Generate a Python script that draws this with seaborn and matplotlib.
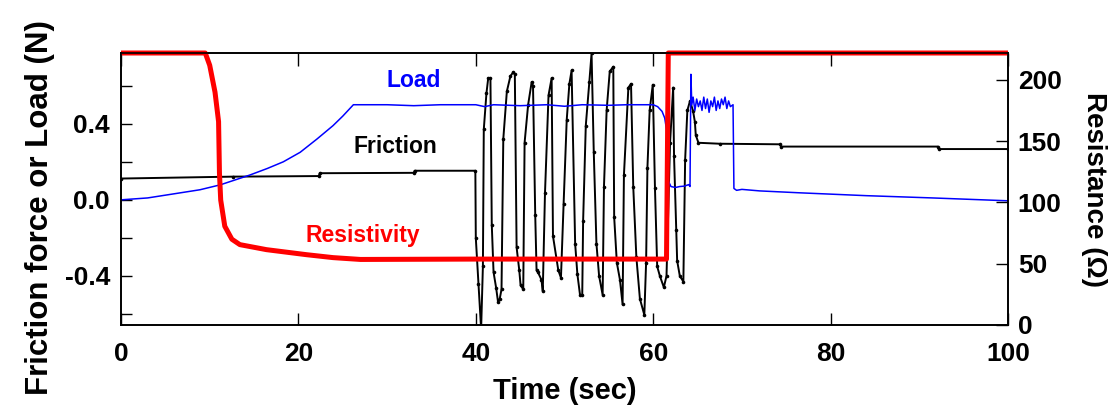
import matplotlib
matplotlib.use("Agg")
import matplotlib.pyplot as plt
import seaborn as sns
import pandas as pd

# Load trace (N) versus time (s)
load_t = [0, 3, 5.2, 8.9, 11.2, 14.5, 16.5, 18.3, 20.2, 22.1, 23.9, 25.0, 26.2,
          30, 33, 36, 40, 41, 42, 45, 48, 50, 52, 55, 57, 60.0,
          60.5, 61.0, 61.3, 61.5, 61.7, 62.0, 62.5, 63.0, 63.5, 64.0, 64.15,
          64.25, 64.35, 64.5, 64.7, 64.9, 65.1, 65.3, 65.5, 65.7, 65.9, 66.1,
          66.3, 66.5, 66.7, 66.9, 67.1, 67.3, 67.5, 67.7, 67.9, 68.1, 68.3,
          68.5, 68.7, 69.0, 69.1, 69.4, 70, 72, 76.5, 84, 91.5, 100]
load_v = [0.0, 0.01, 0.026, 0.053, 0.079, 0.13, 0.165, 0.2, 0.25, 0.32, 0.39, 0.44, 0.50,
          0.50, 0.495, 0.50, 0.50, 0.49, 0.50, 0.495, 0.50, 0.492, 0.50, 0.497, 0.50, 0.50,
          0.49, 0.465, 0.43, 0.37, 0.10, 0.07, 0.065, 0.07, 0.072, 0.08, 0.07,
          0.66, 0.50, 0.54, 0.47, 0.53, 0.49, 0.52, 0.47, 0.54, 0.48, 0.53,
          0.46, 0.52, 0.49, 0.54, 0.47, 0.52, 0.48, 0.53, 0.50, 0.54, 0.48,
          0.52, 0.49, 0.50, 0.06, 0.05, 0.055, 0.047, 0.037, 0.022, 0.01, -0.005]

# Friction force trace (N) versus time (s)
friction_t = [0, 12.6, 22.3, 22.4, 33.0, 33.1, 39.95, 40.0, 40.3, 40.6,
              40.8, 40.9, 41.2, 41.4, 41.65, 41.8, 42.0, 42.3, 42.5, 42.7, 42.9,
              43.1, 43.5, 43.9, 44.2, 44.4, 44.6, 44.9, 45.05, 45.35,
              45.5, 45.9, 46.3, 46.45, 46.7, 46.85, 47.0, 47.4, 47.55,
              47.8, 48.2, 48.55, 48.7, 49.3, 49.6,
              49.9, 50.25, 50.55, 50.8, 51.2, 51.45, 51.75, 52.0,
              52.1, 52.4, 52.8, 53.05, 53.3, 53.6, 53.9, 54.3,
              54.45, 54.75, 55.1, 55.5, 55.6, 55.9, 56.25, 56.55,
              56.7, 57.2, 57.5, 57.75, 58.1, 58.5, 59.0,
              59.2, 59.35, 59.6, 59.95, 60.2, 60.45, 60.75, 61.2, 61.5,
              61.9, 62.25, 62.35, 62.6, 62.7, 63.0, 63.4,
              63.6, 63.85, 64.15, 64.5, 64.7, 64.8, 65.1,
              67.5, 74.3, 74.4, 92.1, 92.2, 100]
friction_v = [0.112, 0.122, 0.125, 0.14, 0.142, 0.153, 0.153, -0.20, -0.44, -0.68,
              -0.35, 0.37, 0.56, 0.64, 0.64, -0.13, -0.38, -0.465, -0.535, -0.52, -0.47,
              0.32, 0.57, 0.65, 0.67, 0.66, -0.25, -0.37, -0.45, -0.47,
              0.30, 0.50, 0.62, 0.60, -0.08, -0.37, -0.38, -0.42, -0.48,
              0.035, 0.55, 0.64, -0.19, -0.37, -0.41,
              -0.02, 0.42, 0.61, 0.68, -0.23, -0.39, -0.50, -0.50,
              -0.11, 0.39, 0.62, 0.77, 0.25, -0.23, -0.40, -0.50,
              0.07, 0.47, 0.675, 0.70, -0.09, -0.33, -0.42, -0.55,
              0.13, 0.59, 0.61, 0.07, -0.30, -0.52, -0.605,
              -0.33, 0.17, 0.47, 0.605, 0.06, -0.35, -0.40, -0.46, -0.40,
              0.30, 0.59, 0.23, -0.16, -0.32, -0.40, -0.43,
              0.21, 0.47, 0.52, 0.465, 0.41, 0.34, 0.30,
              0.295, 0.292, 0.28, 0.28, 0.267, 0.267]

# Electrical resistance (ohm) versus time (s)
resist_t = [0, 9.5, 10.0, 10.6, 11.0, 11.1, 11.24, 11.7, 12.5, 13.4, 16.4,
            20.9, 23.9, 27.0, 40.0, 61.5, 61.7, 100]
resist_v = [222, 222, 212, 190, 166, 124, 102, 80.6, 70, 65.6, 61.5,
            57.4, 55, 53.5, 53.8, 53.8, 222, 222]

x_ticks = [0, 20, 40, 60, 80, 100]
force_ticks = [-0.4, 0.0, 0.4]
force_minor = [-0.6, -0.2, 0.2, 0.6]
resist_ticks = [0, 50, 100, 150, 200]

load_df = pd.DataFrame({"time": load_t, "value": load_v})
friction_df = pd.DataFrame({"time": friction_t, "value": friction_v})
resist_df = pd.DataFrame({"time": resist_t, "value": resist_v})

sns.set_style("ticks")
plt.rcParams["font.family"] = ["Liberation Sans", "DejaVu Sans"]
plt.rcParams["font.weight"] = "bold"
plt.rcParams["text.color"] = "black"
plt.rcParams["axes.labelcolor"] = "black"
plt.rcParams["xtick.color"] = "black"
plt.rcParams["ytick.color"] = "black"

fig = plt.figure(figsize=(11.16, 4.07), dpi=100)
ax = fig.add_axes([121 / 1116, 1 - 325 / 407, (1008 - 121) / 1116, (325 - 53) / 407])
ax2 = ax.twinx()

sns.lineplot(data=friction_df, x="time", y="value", ax=ax, sort=False, estimator=None,
             color="black", linewidth=1.4, marker="o", markersize=2.6,
             markeredgewidth=0)
sns.lineplot(data=load_df, x="time", y="value", ax=ax, sort=False, estimator=None,
             color="#0000ff", linewidth=1.1)
sns.lineplot(data=resist_df, x="time", y="value", ax=ax2, sort=False, estimator=None,
             color="#ff0000", linewidth=3.6, clip_on=False, solid_capstyle="butt")

ax.set_xlim(0, 100)
ax.set_ylim(-0.658, 0.772)
ax2.set_ylim(0, 222)

ax.set_xticks(x_ticks)
ax.set_xticklabels([str(v) for v in x_ticks])
ax.set_yticks(force_ticks)
ax.set_yticklabels([f"{v:.1f}" for v in force_ticks])
ax.set_yticks(force_minor, minor=True)
ax2.set_yticks(resist_ticks)
ax2.set_yticklabels([str(v) for v in resist_ticks])

ax.tick_params(axis="x", direction="in", length=9, width=1, top=True,
               labelsize=19, pad=12, colors="black")
ax.tick_params(axis="y", which="both", direction="in", length=8, width=1,
               labelsize=19, pad=8, right=False, colors="black")
ax2.tick_params(axis="y", direction="in", length=9, width=1, labelsize=19, pad=7,
                colors="black")
ax2.tick_params(axis="x", top=False, bottom=False)
for a in (ax, ax2):
    for lab in a.get_xticklabels() + a.get_yticklabels():
        lab.set_fontweight("bold")
    for s in a.spines.values():
        s.set_visible(True)
        s.set_linewidth(1.2)
        s.set_color("black")

ax.set_xlabel("Time (sec)", fontsize=21, fontweight="bold", labelpad=8)
ax.set_ylabel("Friction force or Load (N)", fontsize=22.5, fontweight="bold")
ax.yaxis.set_label_coords(-0.0744, 0.43)
ax2.set_ylabel("Resistance (\u03a9)", fontsize=20, fontweight="bold", rotation=-90,
               labelpad=14, va="bottom")

ax.text(33.0, 0.63, "Load", color="#0000ff", fontsize=16.5, fontweight="bold",
        ha="center", va="center")
ax.text(30.9, 0.28, "Friction", color="black", fontsize=16.5, fontweight="bold",
        ha="center", va="center")
ax.text(27.3, -0.19, "Resistivity", color="#ff0000", fontsize=16.5, fontweight="bold",
        ha="center", va="center")

fig.savefig("out.png", dpi=100)
